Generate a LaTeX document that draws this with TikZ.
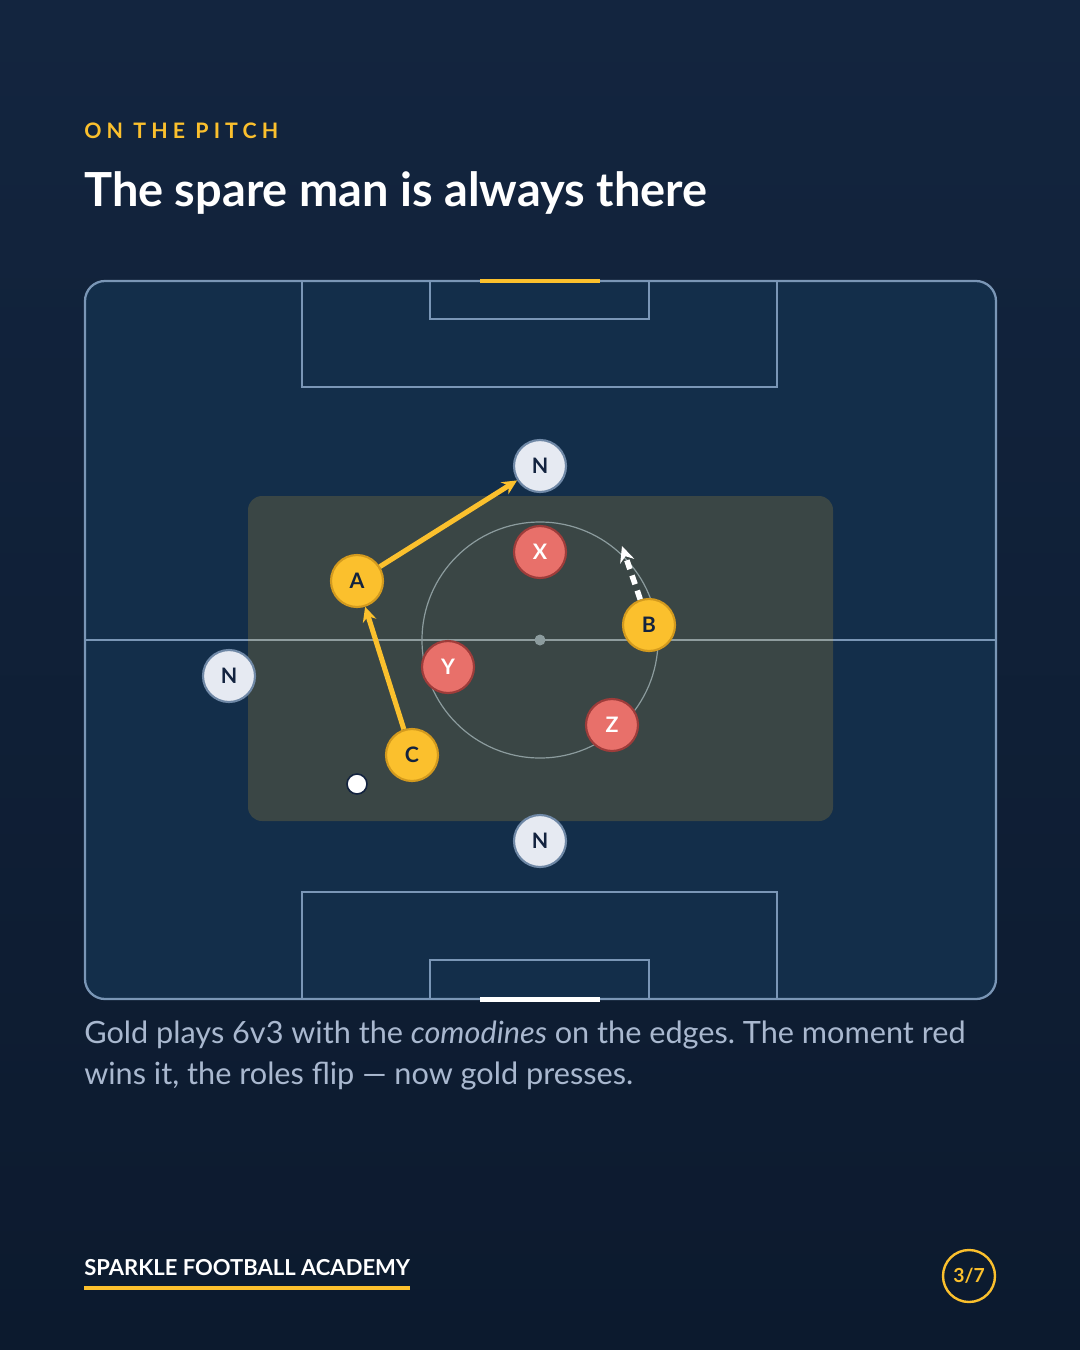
\documentclass[tikz,border=0pt]{standalone}
\usepackage{fontspec}
\setmainfont{Lato}
\newfontfamily\spacedfont[LetterSpace=24]{Lato}
\usetikzlibrary{arrows.meta}
\definecolor{bgtop}{HTML}{13253F}
\definecolor{bgbot}{HTML}{0C1A2E}
\definecolor{pitchc}{HTML}{132E4A}
\definecolor{pline}{HTML}{7A96B6}
\definecolor{goldc}{HTML}{FBC02D}
\definecolor{golddark}{HTML}{D39A1E}
\definecolor{redp}{HTML}{E8706A}
\definecolor{reddark}{HTML}{9E3C3A}
\definecolor{neutralc}{HTML}{E6EAF2}
\definecolor{neutraldark}{HTML}{6F88A6}
\definecolor{navyc}{HTML}{13233F}
\definecolor{captionc}{HTML}{A9B8CF}
\definecolor{circc}{HTML}{8C9C9E}
\tikzset{
  player/.style={circle, minimum size=39pt, inner sep=0pt, line width=1.6pt,
    font=\bfseries\fontsize{16}{16}\selectfont},
  goldp/.style={player, fill=goldc, draw=golddark, text=navyc},
  redpl/.style={player, fill=redp, draw=reddark, text=white},
  neutp/.style={player, fill=neutralc, draw=neutraldark, text=navyc},
  pitchline/.style={draw=pline, line width=1.2pt},
  goldarrow/.style={draw=goldc, line width=3.8pt, -{Stealth[length=11pt,width=10.5pt]}},
  runarrow/.style={draw=white, line width=4.2pt, dash pattern=on 7pt off 5pt, -{Stealth[length=12pt,width=11pt]}},
}
\begin{document}
\frenchspacing
\begin{tikzpicture}[x=0.75pt,y=-0.75pt]
\useasboundingbox (0,0) rectangle (1080,1350);
\shade[top color=bgtop, bottom color=bgbot] (0,0) rectangle (1080,1350);

% header
\node[anchor=base west, inner sep=0pt, text=goldc, font=\spacedfont\bfseries\fontsize{16}{20}\selectfont] (kicker) at (84,138) {ON THE PITCH};
\node[anchor=base west, inner sep=0pt, text=white, font=\bfseries\fontsize{35.2}{40}\selectfont] (title) at (84,206) {The spare man is always there};

% pitch
\fill[pitchc, rounded corners=15pt] (85,281) rectangle (996,999);
\draw[pitchline] (302,281) -- (302,387) -- (777,387) -- (777,281);
\draw[pitchline] (430,281) -- (430,319) -- (649,319) -- (649,281);
\draw[pitchline] (302,999) -- (302,892) -- (777,892) -- (777,999);
\draw[pitchline] (430,999) -- (430,960) -- (649,960) -- (649,999);
\draw[pitchline] (85,640) -- (996,640);
\draw[draw=pline, line width=1.7pt, rounded corners=15pt] (85,281) rectangle (996,999);
\fill[goldc] (480,279) rectangle (600,283);
\fill[white] (480,997) rectangle (600,1002);

% practice zone
\fill[goldc, fill opacity=0.17, rounded corners=10.5pt] (248,496) rectangle (833,821);
\draw[circc, line width=0.9pt] (540,640) circle[radius=118];
\fill[circc] (540,640) circle[radius=5.5];

% players
\node[neutp] (Ntop) at (540,466) {N};
\node[neutp] (Nleft) at (229,676) {N};
\node[neutp] (Nbot) at (540,841) {N};
\node[goldp] (A) at (357,581) {A};
\node[goldp] (B) at (649,625) {B};
\node[goldp] (C) at (412,755) {C};
\node[redpl] (X) at (540,552) {X};
\node[redpl] (Y) at (448,667) {Y};
\node[redpl] (Z) at (612,725) {Z};
\node[circle, fill=white, draw=navyc, line width=1.2pt, minimum size=15pt, inner sep=0pt] (ball) at (357,784) {};
\coordinate (Brun) at (622,546);

% movements
\draw[goldarrow] (A) -- (Ntop);
\draw[goldarrow] (C) -- (A);
\draw[runarrow] (B) -- (Brun);

% caption
\node[anchor=base west, inner sep=0pt, text=captionc, font=\fontsize{23}{30}\selectfont] (cap1) at (84,1043) {Gold plays 6v3 with the \textit{comodines} on the edges. The moment red};
\node[anchor=base west, inner sep=0pt, text=captionc, font=\fontsize{23}{30}\selectfont] (cap2) at (84,1084) {wins it, the roles flip — now gold presses.};

% footer
\node[anchor=base west, inner sep=0pt, text=white, font=\bfseries\fontsize{16.5}{20}\selectfont] (brand) at (84,1275) {SPARKLE FOOTBALL ACADEMY};
\fill[goldc] (84,1286) rectangle (410,1290);
\node[circle, draw=goldc, line width=1.8pt, minimum size=39pt, inner sep=0pt, text=goldc, font=\bfseries\fontsize{14.5}{14.5}\selectfont] (page) at (969,1276) {3/7};
\end{tikzpicture}
\end{document}
